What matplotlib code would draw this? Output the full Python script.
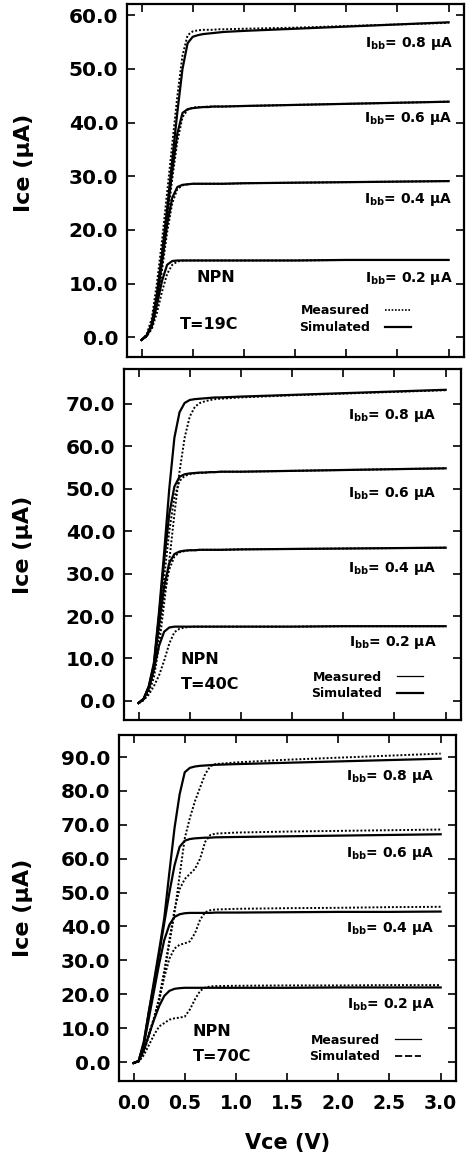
import matplotlib
matplotlib.use("Agg")
import matplotlib.pyplot as plt
from matplotlib.lines import Line2D
from matplotlib.ticker import FormatStrFormatter

# Collector voltage points (V)
vce = [0.0, 0.05, 0.1, 0.15, 0.2, 0.25, 0.3, 0.35, 0.4, 0.45, 0.5, 0.55,
       0.6, 0.65, 0.7, 0.75, 0.8, 1.0, 1.5, 2.0, 2.5, 3.0]

ibb_labels = ["0.2", "0.4", "0.6", "0.8"]

# T = 19C, Ice in uA, ordered Ibb 0.2 .. 0.8
sim_19 = [
    [-0.5, 0.3, 2.0, 6.0, 10.5, 13.5, 14.2, 14.3, 14.3, 14.3, 14.3, 14.3, 14.3, 14.3, 14.3, 14.3, 14.3, 14.3, 14.3, 14.4, 14.4, 14.4],
    [-0.5, 0.3, 2.2, 7.0, 14.0, 21.0, 26.0, 28.0, 28.4, 28.5, 28.6, 28.6, 28.6, 28.6, 28.6, 28.6, 28.6, 28.7, 28.8, 28.9, 29.0, 29.1],
    [-0.5, 0.3, 2.3, 7.5, 15.0, 23.0, 31.0, 38.0, 41.8, 42.5, 42.7, 42.8, 42.9, 42.9, 43.0, 43.0, 43.0, 43.1, 43.3, 43.5, 43.7, 43.9],
    [-0.5, 0.3, 2.5, 8.0, 15.5, 24.0, 33.0, 42.0, 50.0, 54.8, 56.0, 56.3, 56.5, 56.6, 56.7, 56.8, 56.9, 57.1, 57.5, 57.9, 58.3, 58.7],
]
meas_19 = [
    [-0.5, 0.2, 1.5, 4.5, 8.5, 11.8, 13.5, 14.1, 14.3, 14.3, 14.3, 14.3, 14.3, 14.3, 14.3, 14.3, 14.3, 14.3, 14.3, 14.4, 14.4, 14.4],
    [-0.5, 0.2, 1.8, 6.0, 12.5, 19.5, 25.0, 27.6, 28.3, 28.5, 28.6, 28.6, 28.6, 28.6, 28.6, 28.6, 28.6, 28.7, 28.8, 28.9, 29.0, 29.1],
    [-0.5, 0.2, 2.0, 6.5, 13.5, 21.5, 29.5, 36.5, 41.0, 42.4, 42.8, 42.9, 42.9, 43.0, 43.0, 43.0, 43.0, 43.1, 43.3, 43.5, 43.7, 43.9],
    [-0.5, 0.5, 3.5, 10.0, 18.0, 27.0, 36.0, 45.0, 52.5, 56.3, 57.0, 57.2, 57.3, 57.3, 57.3, 57.4, 57.4, 57.5, 57.7, 58.0, 58.3, 58.6],
]

# T = 40C
sim_40 = [
    [-0.5, 0.4, 3.0, 7.5, 13.0, 16.3, 17.3, 17.5, 17.5, 17.5, 17.5, 17.5, 17.5, 17.5, 17.5, 17.5, 17.5, 17.5, 17.5, 17.6, 17.6, 17.6],
    [-0.5, 0.5, 3.2, 8.0, 18.0, 27.0, 32.5, 34.6, 35.2, 35.4, 35.5, 35.5, 35.6, 35.6, 35.6, 35.6, 35.6, 35.7, 35.8, 35.9, 36.0, 36.1],
    [-0.5, 0.5, 3.3, 8.5, 20.0, 33.0, 44.0, 50.5, 52.8, 53.4, 53.6, 53.7, 53.8, 53.8, 53.9, 53.9, 54.0, 54.0, 54.2, 54.4, 54.6, 54.8],
    [-0.5, 0.5, 3.5, 9.0, 21.0, 35.0, 50.0, 62.0, 68.0, 70.2, 70.9, 71.1, 71.2, 71.3, 71.4, 71.5, 71.5, 71.7, 72.1, 72.5, 72.9, 73.3],
]
meas_40 = [
    [-0.5, 0.2, 1.5, 3.5, 6.0, 9.5, 13.5, 16.2, 17.0, 17.3, 17.4, 17.5, 17.5, 17.5, 17.5, 17.5, 17.5, 17.5, 17.5, 17.6, 17.6, 17.6],
    [-0.5, 0.3, 2.5, 7.0, 16.0, 25.0, 31.0, 34.0, 35.0, 35.3, 35.5, 35.5, 35.6, 35.6, 35.6, 35.6, 35.6, 35.7, 35.8, 35.9, 36.0, 36.1],
    [-0.5, 0.3, 2.5, 7.0, 17.0, 29.0, 40.0, 48.0, 51.8, 53.0, 53.4, 53.6, 53.7, 53.8, 53.9, 53.9, 54.0, 54.0, 54.2, 54.4, 54.6, 54.8],
    [-0.5, 0.2, 2.0, 5.5, 13.0, 23.0, 33.0, 44.0, 54.0, 62.0, 67.0, 69.3, 70.2, 70.6, 70.9, 71.1, 71.2, 71.5, 72.0, 72.4, 72.8, 73.2],
]

# T = 70C
sim_70 = [
    [-0.3, 0.3, 3.5, 8.0, 12.5, 16.5, 19.5, 21.0, 21.6, 21.8, 21.9, 21.9, 21.9, 21.9, 21.9, 21.9, 21.9, 21.9, 21.9, 22.0, 22.0, 22.0],
    [-0.3, 0.3, 5.0, 13.0, 21.0, 29.0, 36.0, 40.5, 42.8, 43.6, 43.9, 44.0, 44.0, 44.0, 44.0, 44.0, 44.1, 44.1, 44.2, 44.3, 44.3, 44.4],
    [-0.3, 0.3, 5.5, 15.0, 23.0, 32.0, 41.0, 50.0, 58.0, 63.5, 65.3, 65.8, 66.0, 66.1, 66.2, 66.2, 66.3, 66.4, 66.6, 66.8, 67.0, 67.2],
    [-0.3, 0.3, 6.0, 15.0, 24.0, 33.0, 42.5, 56.0, 69.0, 79.0, 85.5, 86.8, 87.2, 87.4, 87.5, 87.6, 87.7, 87.9, 88.3, 88.7, 89.1, 89.5],
]
meas_70 = [
    [-0.3, 0.1, 2.0, 5.0, 8.0, 10.5, 11.5, 12.5, 12.9, 13.1, 13.4, 15.5, 18.5, 21.0, 22.0, 22.3, 22.4, 22.5, 22.6, 22.6, 22.7, 22.7],
    [-0.3, 0.2, 3.0, 8.0, 13.0, 18.5, 25.0, 30.5, 33.5, 34.6, 35.0, 35.6, 38.0, 42.0, 44.2, 44.8, 45.0, 45.2, 45.4, 45.5, 45.7, 45.8],
    [-0.3, 0.2, 3.0, 8.0, 13.0, 19.0, 27.0, 36.0, 45.0, 51.0, 54.0, 55.5, 57.0, 60.0, 65.0, 67.0, 67.4, 67.7, 68.0, 68.2, 68.4, 68.6],
    [-0.3, 0.2, 3.0, 8.0, 13.0, 18.0, 26.0, 35.0, 44.0, 55.0, 66.0, 72.0, 77.0, 81.0, 85.0, 87.3, 87.9, 88.4, 89.2, 89.8, 90.4, 91.0],
]

temps = ["T=19C", "T=40C", "T=70C"]
y_max_tick = [60, 70, 90]
y_limits = [(-3.7, 62.1), (-4.5, 78.2), (-5.6, 96.5)]
# where the Ibb labels sit (right edge x, baseline y per curve)
label_x = [3.04, 2.91, 2.94]
label_y = [[10.3, 25.0, 40.2, 54.1], [13.0, 30.4, 48.1, 66.5], [15.8, 38.4, 60.6, 83.2]]
npn_pos = [(0.54, 0.37, 10.3, 1.6), (0.41, 0.41, 8.6, 2.9), (0.58, 0.58, 7.8, 0.3)]
legend_anchor = [(2.63, 0.6), (2.78, 0.1), (2.81, -0.4)]
ylabel_x = [-0.275, -0.27, -0.255]

all_sim = [sim_19, sim_40, sim_70]
all_meas = [meas_19, meas_40, meas_70]

# axes rectangles in figure fractions (left, bottom, width, height)
rects = [(0.2682, 0.6922, 0.714, 0.3043),
         (0.2619, 0.3793, 0.714, 0.3026),
         (0.2513, 0.0681, 0.714, 0.2983)]

fig = plt.figure(figsize=(4.72, 11.6), dpi=100)

for p in range(3):
    ax = fig.add_axes(rects[p])
    for k in range(4):
        ax.plot(vce, all_sim[p][k], color="black", lw=1.6, ls="-")
        ax.plot(vce, all_meas[p][k], color="black", lw=1.4, ls=(0, (1, 1)))
        ax.text(label_x[p], label_y[p][k],
                r"I$_{\mathbf{bb}}$= " + ibb_labels[k] + " \u03bcA",
                ha="right", va="baseline", fontsize=10, fontweight="bold")

    nx, tx, ny, ty = npn_pos[p]
    ax.text(nx, ny, "NPN", fontsize=11.5, fontweight="bold", va="baseline")
    ax.text(tx, ty, temps[p], fontsize=11.5, fontweight="bold", va="baseline")

    if p == 0:
        handles = [Line2D([], [], color="black", lw=1.2, ls=(0, (1, 1))),
                   Line2D([], [], color="black", lw=1.6)]
    elif p == 1:
        handles = [Line2D([], [], color="black", lw=0.9),
                   Line2D([], [], color="black", lw=1.6)]
    else:
        handles = [Line2D([], [], color="black", lw=0.9),
                   Line2D([], [], color="black", lw=1.3, ls=(0, (4, 1.5)))]
    ax.legend(handles, ["Measured", "Simulated"], loc="lower right",
              bbox_to_anchor=legend_anchor[p], bbox_transform=ax.transData,
              frameon=False, markerfirst=False, borderpad=0, borderaxespad=0,
              handlelength=2.1, handletextpad=1.2, labelspacing=0.3,
              prop={"weight": "bold", "size": 9})

    ax.set_xlim(-0.146, 3.146)
    ax.set_ylim(*y_limits[p])
    ax.set_xticks([0.0, 0.5, 1.0, 1.5, 2.0, 2.5, 3.0])
    ax.set_yticks(list(range(0, y_max_tick[p] + 1, 10)))
    ax.yaxis.set_major_formatter(FormatStrFormatter("%.1f"))
    ax.xaxis.set_major_formatter(FormatStrFormatter("%.1f"))
    ax.tick_params(direction="in", length=6, width=1.2, top=True, right=True,
                   pad=6)
    for lab in ax.get_yticklabels():
        lab.set_fontsize(14.5)
        lab.set_fontweight("bold")
    for s in ax.spines.values():
        s.set_linewidth(1.6)

    ax.set_ylabel("Ice (\u03bcA)", fontsize=16, fontweight="bold")
    ax.yaxis.set_label_coords(ylabel_x[p], 0.55 if p == 0 else 0.5)

    if p < 2:
        ax.tick_params(labelbottom=False)
    else:
        for lab in ax.get_xticklabels():
            lab.set_fontsize(13.5)
            lab.set_fontweight("bold")
        ax.tick_params(axis="x", pad=9)
        ax.set_xlabel("Vce (V)", fontsize=15, fontweight="bold")
        ax.xaxis.set_label_coords(0.5, -0.15)

fig.savefig("out.png", dpi=100)
